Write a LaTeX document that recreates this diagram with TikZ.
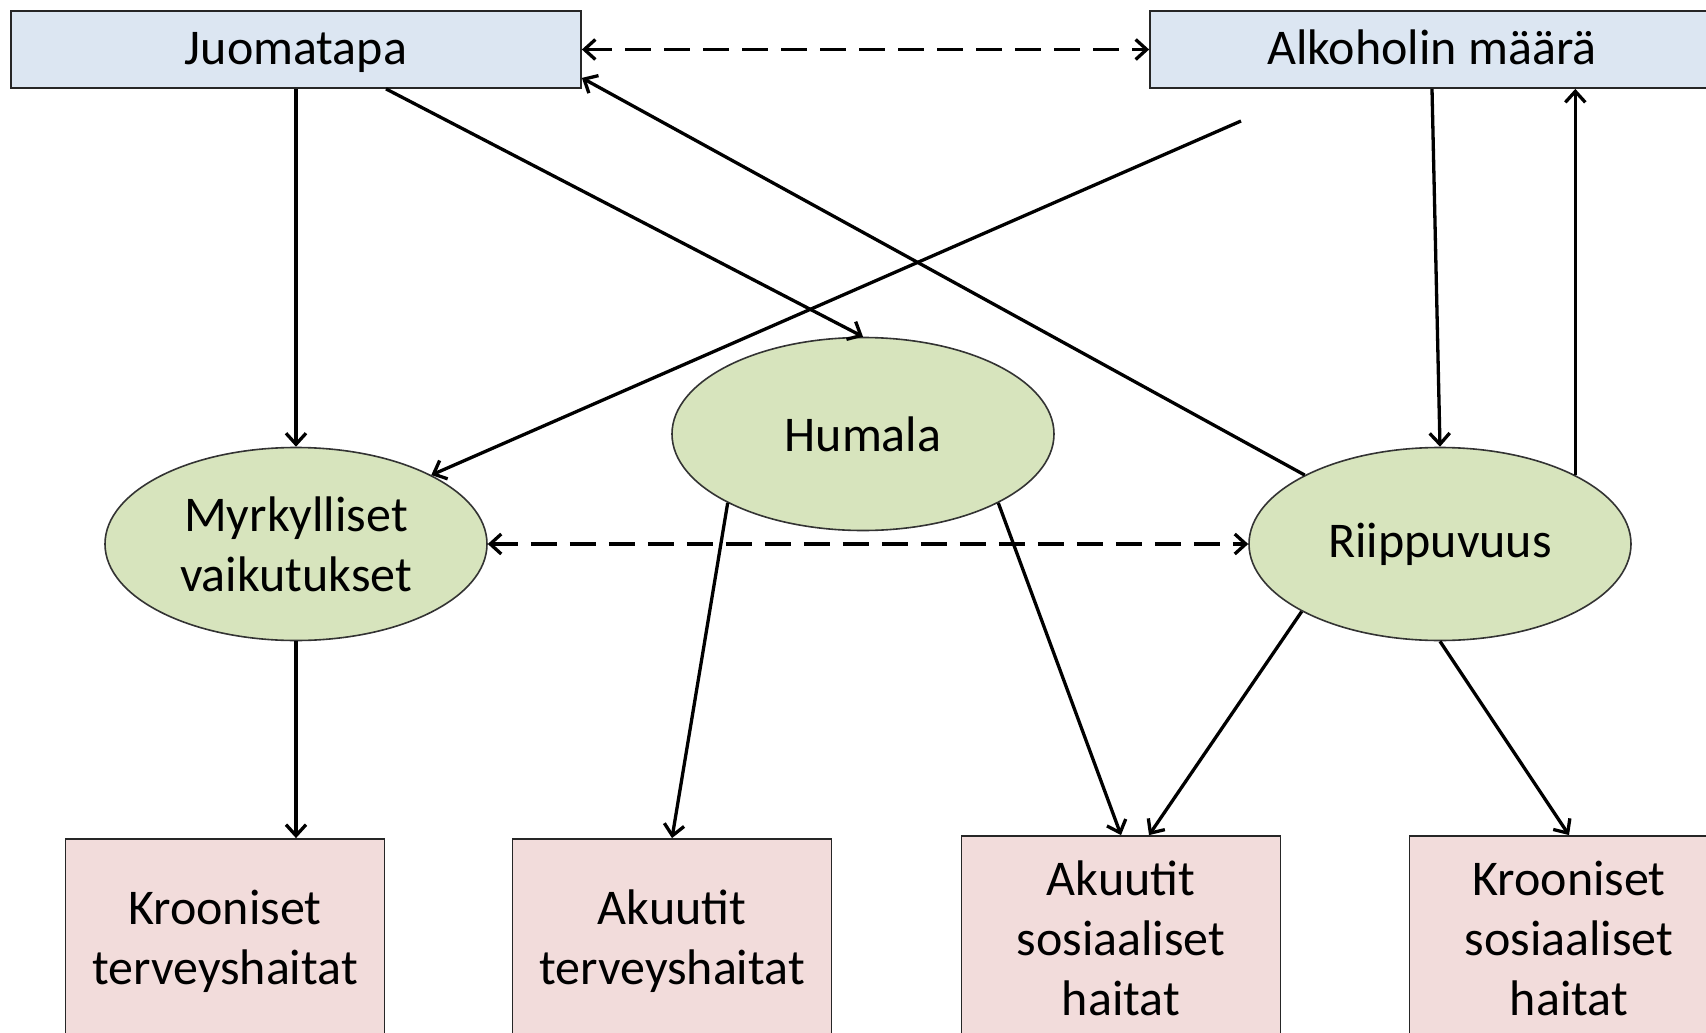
\documentclass[tikz,border=0pt]{standalone}
\usepackage{fontspec}
\setmainfont{Carlito}
\usetikzlibrary{shapes.geometric,arrows.meta,calc}
\definecolor{boxblue}{HTML}{DCE6F2}
\definecolor{ellgreen}{HTML}{D7E4BD}
\definecolor{boxpink}{HTML}{F2DCDB}
\begin{document}
\begin{tikzpicture}[x=1pt,y=-1pt,
  lbl/.style={font=\fontsize{50}{60}\selectfont, align=center},
  topbox/.style={lbl, draw=black!85, line width=1.8pt, fill=boxblue, minimum width=570pt, minimum height=77pt, inner sep=0pt, text height=36pt, text depth=5pt},
  ell/.style={lbl, ellipse, draw=black!80, line width=1.6pt, fill=ellgreen, minimum width=382pt, minimum height=193pt, inner sep=0pt},
  botbox/.style={lbl, draw=black!85, line width=1.8pt, fill=boxpink, minimum width=319pt, minimum height=204pt, inner sep=0pt},
  conn/.style={line width=3.3pt, -{Straight Barb[length=11pt,width=20pt]}},
  dconn/.style={line width=3.3pt, {Straight Barb[length=11pt,width=20pt]}-{Straight Barb[length=11pt,width=20pt]}, dash pattern=on 26pt off 13pt}
]
\useasboundingbox (0,0) rectangle (1706,1033);
\fill[white] (0,0) rectangle (1706,1033);
\clip (0,0) rectangle (1706,1033);
\node[topbox] (juo) at (296,49.5) {Juomatapa};
\node[topbox, minimum width=564pt] (alk) at (1432,49.5) {Alkoholin määrä};
\node[ell] (hum) at (863,434) {Humala};
\node[ell] (myr) at (296,544) {Myrkylliset\\vaikutukset};
\node[ell] (rii) at (1440,544) {Riippuvuus};
\node[botbox] (kt) at (225,941) {Krooniset\\terveyshaitat};
\node[botbox] (at) at (672,941) {Akuutit\\terveyshaitat};
\node[botbox] (as) at (1121,938) {Akuutit\\sosiaaliset\\haitat};
\node[botbox] (ks) at (1569,938) {Krooniset\\sosiaaliset\\haitat};
\coordinate (alkfree) at (1241,121);
\draw[dconn] (juo.east) -- (alk.west);
\draw[conn] (juo.south) -- (myr.north);
\draw[conn] ([xshift=90pt]juo.south) -- (hum.north);
\draw[conn] (rii.153) -- ([yshift=11pt]juo.south east);
\draw[conn] (alkfree) -- (myr.27);
\draw[conn] (alk.south) -- (rii.north);
\draw[conn] (rii.27) -- (rii.27 |- alk.south);
\draw[dconn] (myr.east) -- (rii.west);
\draw[conn] (myr.south) -- (myr.south |- kt.north);
\draw[conn] (hum.207) -- (at.north);
\draw[conn] (hum.333) -- (as.north);
\draw[conn] (rii.206) -- ([xshift=28pt]as.north);
\draw[conn] (rii.south) -- (ks.north);
\end{tikzpicture}
\end{document}
